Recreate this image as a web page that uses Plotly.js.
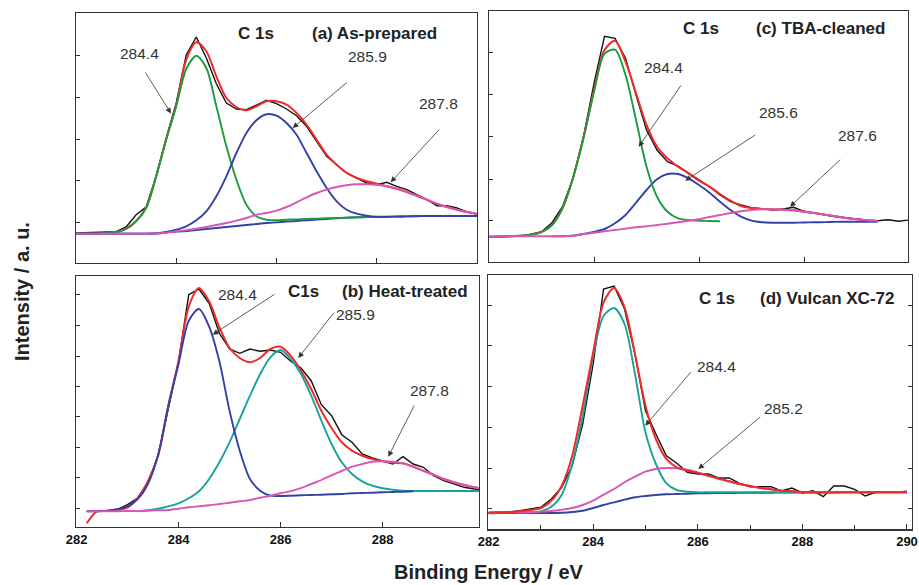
<!DOCTYPE html>
<html><head><meta charset="utf-8">
<script src="https://cdn.plot.ly/plotly-3.0.1.min.js"></script>
<style>html,body{margin:0;padding:0;background:#fff;}#chart{width:919px;height:585px;}</style>
</head><body><div id="chart"></div>
<script>
// Binding energy grid (eV)
const energy = [282.0,282.2,282.4,282.6,282.8,283.0,283.2,283.4,283.6,283.8,284.0,284.2,284.4,284.6,284.8,285.0,285.2,285.4,285.6,285.8,286.0,286.2,286.4,286.6,286.8,287.0,287.2,287.4,287.6,287.8,288.0,288.2,288.4,288.6,288.8,289.0,289.2,289.4,289.6,289.8,290.0];

// (a) As-prepared
const rawA = [30,30.3,30.7,30.7,31.3,36,48.3,56,86.7,125,160,208.3,226,205,179.3,160,154,153.3,158.3,162.7,159.3,154,147.3,136.7,121.7,106.7,98.3,90,85,80,78.3,80.7,76.7,73.3,68.3,63.3,57.3,57.3,55,51,49];
const fitA = [29.3,29.3,29.3,30,31,34.5,42,55.5,87,124,158,203.3,220.7,211.7,186.7,165,156,152.7,156.7,161.7,161.7,158.3,150,138.3,123.3,108.3,98.3,90,85,81.7,79.3,76.7,74.3,71,67.3,63.3,59.3,56,53.3,51,49];
const bgA = [29.3,29.3,29.3,29.3,29.3,29.3,29.3,29.3,29.5,30.3,31.3,32,33,34,35,36,37,38,39,40,40.7,41.3,42,42.7,43.3,44,44.7,45.3,45.7,46,46,46.2,46.4,46.6,46.8,47,47,47,47,47,47];
const pkA_2844 = [29.3,29.3,29.3,30,31,34,41.7,55,86.7,123.3,157,194,207.3,195,156.7,116.7,83.3,58.3,46.7,43.3,42.7,43.3,43.6,44,44.4,44.7,45,45.3,45.7,46,46,null,null,null,null,null,null,null,null,null,null];
const pkA_2859 = [29.3,29.3,29.3,29.3,29.3,29.3,29.3,29.3,29.7,31,33.3,36.7,42.7,51.7,66.7,86.7,110,130,142.7,148.7,147.3,140,128.3,110,91.7,75,61.7,53.3,49.3,47.3,46.3,46.3,46.5,46.6,46.8,47,47,47,47,47,47];
const pkA_2878 = [29.3,29.3,29.3,29.3,29.3,29.3,29.3,29.3,29.7,30.3,31.7,32.7,34.3,36,38,40,42.3,45,48.3,50,52.3,56,60.7,65.7,70,73.3,76,77.7,78.7,78.7,78.3,76.7,74.3,71,67.3,63.3,59.3,56,53.3,51,49];

// (b) Heat-treated
const rawB = [null,15.4,15.4,16,17.4,22,28.7,44.4,71,119.4,165,232,237.7,223.4,193.4,177.7,173.4,177.7,175.4,176.7,174.4,165.4,158.7,146,122,111,92,84.4,72.7,68.7,65.4,62.7,70,62.7,59.4,51,46,42.7,39.4,37.7,37];
const fitB = [null,3.4,15.4,15.7,16.7,19.4,28.7,45.4,71,121,166,220,238.7,225.4,199.4,178.7,168.7,164.4,168.7,177.7,180,171,156,137.7,116,98.7,84.4,76,71,67.7,65.4,64,63.4,60,56,52,47.7,44.4,41.7,39.4,37.5];
const pkB_2844 = [null,15.4,15.4,16,17.4,20.4,27.7,42.7,72,121,162.7,206,217.7,200,165.4,116,76,47.7,36,31,30.7,31,31.4,31.7,32,32.4,32.7,33.4,33.7,34,34.4,34.7,35,35.4,null,null,null,null,null,null,null];
const pkB_2859 = [null,null,null,null,null,null,15.4,16.4,18,20.4,23.4,28.4,35.4,47.7,64.4,84.4,107.7,131,152.7,169.4,176.7,167.7,152.7,131,106,82.7,64.4,52.7,45.4,41,38.4,37,36,35.7,35.7,35.7,35.7,35.7,35.7,35.7,35.7];
const pkB_2878 = [null,15.4,15.4,15.4,15.4,15.7,15.7,16,16.4,16.7,18,19.4,20.4,21.4,22.7,24,25.4,26.7,29,31,33.5,35.5,38.5,42.7,46.7,51.4,55.7,60,62.7,65,65.4,65,63.4,60,56,52,47.7,44.4,41.7,39.4,37.5];

// (c) TBA-cleaned
const rawC = [25,25,25.4,25.7,27.4,30,39,55,83.4,125,178.4,225.4,223.4,203.4,166.7,131.7,111.7,100,95.7,89,82.4,75,66.7,60,56.7,54,53,51.7,52.7,54.4,50.4,48.4,47,45,44,42.7,41.4,41,42,40.4,41.7];
const fitC = [25,25,25.4,26,27,29.7,36.7,53.7,84,124.4,171.7,211.7,221,200,168.4,136.7,115,103.4,95,88.4,81,75,67.7,61,55.7,53.7,52.7,52.4,52,51.4,50,48.7,47,45.4,43.7,42.4,41.4,40.7,null,null,null];
const pkC_2844 = [25,25,25.4,26,27,29.7,36.7,53.4,83.4,123.4,170,208,212,186.7,141.7,95,65,50,43.4,41.7,41,40.7,40.4,null,null,null,null,null,null,null,null,null,null,null,null,null,null,null,null,null,null];
const pkC_2856 = [null,null,null,null,null,null,25.4,25.4,26,27.7,29.7,32.7,38.4,46.7,59,71.7,82.4,87.7,87.7,83.4,76.7,69,60,51.7,45,41,39.4,39,39,39,39.2,39.4,39.6,39.8,40,40,40,40,null,null,null];
const pkC_2876 = [25,25.4,25.4,25.4,25.4,25.4,25.4,25.4,26,27.7,29,30.4,31.7,33,34.4,35.4,36.7,38,39.4,41,42.4,44.7,46.7,48.7,50.4,51.7,52.4,52.4,52,51.4,50,48.7,47,45.4,43.7,42.4,41.4,40.7,null,null,null];

// (d) Vulcan XC-72
const rawD = [16.6,17,17.3,18.6,20,22,30.3,42,63.6,105.3,165.3,240.3,243.3,220.3,175.3,118.6,95.3,73.6,66,57,55.3,55.3,51.3,51.3,46,42.6,42.6,42.6,38.3,41.3,36.3,38.6,32.6,43.3,43.3,40,33.3,37,37,37,38];
const fitD = [16.6,17,17.3,18,19.3,21.3,28.6,43.6,73.6,123.6,177,227,241.3,222,175.3,123.6,90.3,70.3,62,58.6,56.3,53.6,50.6,48,45.3,43.3,41.3,40,38.6,38,37.3,37,37,37,37,37,37,37,37,37,37];
const bgD = [16,16.3,16.3,16.3,16.3,16.3,16.3,16.6,17.3,18.6,21.3,24.3,27,29.6,32,33.3,34.3,35,35.3,35.6,36,36.1,36.2,36.3,36.4,36.5,36.6,36.6,36.7,36.7,36.7,36.8,36.8,36.8,36.9,36.9,37,37,37,37,37];
const pkD_2844 = [16.6,17,17,17,17,18,22.6,34.6,65.3,113,173.6,213.6,221.3,205.3,155.3,97,65.3,46,39.3,37.6,37,37,37,37,37,37,37,37,37,37,37,null,null,null,null,null,null,null,null,null,null];
const pkD_2852 = [16.6,17,17,17,17,17.6,18.3,19.6,21.3,24.3,28.6,34.6,40.3,47,52.6,57.6,60.3,61.3,61,59.6,57,53.6,50.6,48,45.3,43.3,41.3,40,38.6,38,37.3,37,37,37,37,37,37,37,37,37,37];

const xTickLabels = ['282','284','286','288','290'];
const xTickVals = [282,284,286,288,290];

// ---------- styling ----------
const W = 919, H = 585;
const PX = v => v / W, PY = v => 1 - v / H;
const FONT = 'Arial, "Liberation Sans", sans-serif';
const C = {raw:'#111111', fit:'#ee2b2b', green:'#1c9c40', blue:'#3442a8', pink:'#d955b6', teal:'#16a39c'};

function tr(y, color, w, xa, ya, shape) {
  return {x: energy, y: y, type: 'scatter', mode: 'lines', xaxis: xa, yaxis: ya,
    line: {color: color, width: w, shape: shape || 'spline', smoothing: 0.8},
    connectgaps: false, hoverinfo: 'skip', showlegend: false};
}

const data = [
  tr(rawA, C.raw, 1.4, 'x', 'y', 'linear'),
  tr(fitA, C.fit, 2, 'x', 'y'),
  tr(bgA, C.blue, 1.8, 'x', 'y'),
  tr(pkA_2844, C.green, 1.9, 'x', 'y'),
  tr(pkA_2859, C.blue, 1.9, 'x', 'y'),
  tr(pkA_2878, C.pink, 1.9, 'x', 'y'),

  tr(rawB, C.raw, 1.4, 'x2', 'y2', 'linear'),
  tr(fitB, C.fit, 2, 'x2', 'y2'),
  tr(pkB_2859, C.teal, 1.9, 'x2', 'y2'),
  tr(pkB_2844, C.blue, 1.9, 'x2', 'y2'),
  tr(pkB_2878, C.pink, 1.9, 'x2', 'y2'),

  tr(rawC, C.raw, 1.4, 'x3', 'y3', 'linear'),
  tr(fitC, C.fit, 2, 'x3', 'y3'),
  tr(pkC_2856, C.blue, 1.9, 'x3', 'y3'),
  tr(pkC_2844, C.green, 1.9, 'x3', 'y3'),
  tr(pkC_2876, C.pink, 1.9, 'x3', 'y3'),

  tr(rawD, C.raw, 1.4, 'x4', 'y4', 'linear'),
  tr(bgD, C.blue, 1.9, 'x4', 'y4'),
  tr(pkD_2844, C.teal, 1.9, 'x4', 'y4'),
  tr(pkD_2852, C.pink, 1.9, 'x4', 'y4'),
  tr(fitD, C.fit, 2, 'x4', 'y4')
];

function xax(l, r, range, anchor, labels, minor) {
  const a = {domain: [PX(l), PX(r)], range: range, anchor: anchor, showline: true, linecolor: '#333', linewidth: 1.3,
    mirror: true, ticks: 'inside', ticklen: 5, tickcolor: '#333', tickwidth: 1, showgrid: false, zeroline: false,
    tickvals: xTickVals, ticktext: xTickLabels, showticklabels: labels,
    tickfont: {family: FONT, size: 13, color: '#111', weight: 'bold'}, fixedrange: true};
  if (minor) a.minor = {dtick: 1, tick0: 282, ticks: 'inside', ticklen: 4, tickcolor: '#333', tickwidth: 1, showgrid: false};
  return a;
}
function yax(top, bot, range, anchor, tv, mir) {
  return {domain: [PY(bot), PY(top)], range: range, anchor: anchor, showline: true, linecolor: '#333', linewidth: 1.3,
    mirror: mir, ticks: 'inside', ticklen: 4, tickcolor: '#333', tickwidth: 1, tickvals: tv,
    showticklabels: false, showgrid: false, zeroline: false, fixedrange: true};
}

const ann = [];
function txt(s, x, y, size, bold, color) {
  ann.push({text: s, xref: 'paper', yref: 'paper', x: PX(x), y: PY(y), xanchor: 'center', yanchor: 'middle',
    showarrow: false, font: {family: FONT, size: size, color: color || '#222', weight: bold ? 'bold' : 'normal'}});
}
function arrow(tx, ty, hx, hy) {
  ann.push({text: '', xref: 'paper', yref: 'paper', x: PX(hx), y: PY(hy), ax: tx - hx, ay: ty - hy,
    showarrow: true, arrowhead: 2, arrowsize: 1.4, arrowwidth: 0.8, arrowcolor: '#333', standoff: 0, startstandoff: 0});
}
const TS = 17, NS = 15.5;
// (a)
txt('C 1s', 256, 33.5, TS, true); txt('(a) As-prepared', 374, 33.5, TS, true);
txt('284.4', 139.5, 53, NS, false, '#333'); arrow(144.5, 71, 171, 113.5);
txt('285.9', 367.5, 56.5, NS, false, '#333'); arrow(348.3, 81.3, 292.7, 128);
txt('287.8', 438, 103.7, NS, false, '#333'); arrow(440.7, 128, 390.7, 182.3);
// (b)
txt('C1s', 303.3, 291.3, TS, true); txt('(b) Heat-treated', 405, 291.3, TS, true);
txt('284.4', 237.7, 294.7, NS, false, '#333'); arrow(276, 293.3, 212.7, 334.7);
txt('285.9', 355, 314.7, NS, false, '#333'); arrow(335, 311.3, 298.3, 358);
txt('287.8', 429.3, 390.7, NS, false, '#333'); arrow(415, 404, 388.3, 456.7);
// (c)
txt('C 1s', 700.5, 28.3, TS, true); txt('(c) TBA-cleaned', 820.8, 28.3, TS, true);
txt('284.4', 663.7, 67.3, NS, false, '#333'); arrow(682, 84, 638.7, 146.7);
txt('285.6', 778.3, 112.3, NS, false, '#333'); arrow(756.7, 134, 685.3, 180.7);
txt('287.6', 857.7, 135.7, NS, false, '#333'); arrow(841.7, 158.3, 790, 206.7);
// (d)
txt('C 1s', 716.7, 298, TS, true); txt('(d) Vulcan XC-72', 827.3, 298, TS, true);
txt('284.4', 716.7, 366.3, NS, false, '#333'); arrow(692, 370.7, 645.3, 425.7);
txt('285.2', 783.3, 408, NS, false, '#333'); arrow(761.7, 415.7, 698.3, 469);
// axis titles
txt('Binding Energy / eV', 489, 571.5, 20, true, '#222');
ann.push({text: 'Intensity / a. u.', xref: 'paper', yref: 'paper', x: PX(22), y: PY(292), xanchor: 'center', yanchor: 'middle',
  textangle: -90, showarrow: false, font: {family: FONT, size: 20, color: '#222', weight: 'bold'}});

const layout = {
  width: W, height: H, margin: {l: 0, r: 0, t: 0, b: 0, pad: 0},
  paper_bgcolor: '#fff', plot_bgcolor: '#fff', showlegend: false,
  font: {family: FONT, color: '#222'},
  xaxis:  xax(76, 477, [282, 290], 'y', false, false),
  yaxis:  yax(13, 263, [0, 250], 'x', [40.7, 82.4, 124, 165.7, 207.4], true),
  xaxis2: xax(76, 479, [281.99, 289.89], 'y2', true, false),
  yaxis2: yax(276, 526.7, [0, 250.7], 'x2', [18.4, 49.4, 79.4, 110, 140, 170.7, 201, 232], true),
  xaxis3: xax(489, 908, [282, 289.98], 'y3', false, false),
  yaxis3: yax(11, 261.7, [0, 250.7], 'x3', [41, 82.7, 125, 167.4, 209], true),
  xaxis4: xax(488, 911.7, [281.99, 290.09], 'y4', true, true),
  yaxis4: yax(275, 529.3, [0, 254.3], 'x4', [21, 61.3, 102, 143, 183.6, 223.6], 'ticks'),
  annotations: ann
};

Plotly.newPlot('chart', data, layout, {staticPlot: true, displayModeBar: false});
</script>
</body></html>
